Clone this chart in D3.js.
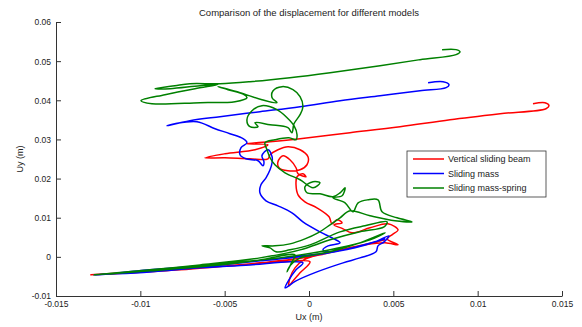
<!DOCTYPE html>
<html><head><meta charset="utf-8">
<script src="https://cdn.jsdelivr.net/npm/d3@7/dist/d3.min.js"></script>
<style>body{margin:0;background:#fff}svg{display:block}text{font-family:"Liberation Sans",Arial,sans-serif;fill:#222}</style>
</head><body>
<svg id="chart" width="582" height="327"></svg>
<script>
const title = "Comparison of the displacement for different models";
const xLabel = "Ux (m)";
const yLabel = "Uy (m)";
const xTicks = [-0.015, -0.01, -0.005, 0, 0.005, 0.01, 0.015];
const yTicks = [-0.01, 0, 0.01, 0.02, 0.03, 0.04, 0.05, 0.06];
const seriesNames = ["Vertical sliding beam", "Sliding mass", "Sliding mass-spring"];
const seriesColors = ["#ff0000", "#0000ff", "#008000"];

const beamUx = [0.01328,0.01399,0.01423,0.01405,0.01133,0.00836,0.00540,0.00243,-0.00053,-0.00231,-0.00368,-0.00243,-0.00320,-0.00498,-0.00617,-0.00498,-0.00350,-0.00243,-0.00231,-0.00184,-0.00125,-0.00053,-0.00006,-0.00012,-0.00053,-0.00125,-0.00178,-0.00184,-0.00154,-0.00113,-0.00077,-0.00065,-0.00018,-0.00036,-0.00071,-0.00077,-0.00065,-0.00024,0.00047,0.00119,0.00136,0.00166,0.00196,0.00148,0.00202,0.00255,0.00362,0.00468,0.00528,0.00492,0.00463,0.00528,0.00451,0.00332,0.00184,0.00053,-0.00030,-0.00083,-0.00113,-0.00119,-0.00095,-0.00053,0.00006,-0.00172,-0.00469,-0.00765,-0.01062,-0.01293,-0.01002,-0.00646,-0.00291,0.00006,0.00243,0.00451];
const beamUy = [0.03913,0.03939,0.03862,0.03785,0.03657,0.03504,0.03325,0.03171,0.03018,0.02941,0.02890,0.02864,0.02737,0.02634,0.02532,0.02532,0.02506,0.02506,0.02609,0.02737,0.02813,0.02737,0.02558,0.02353,0.02225,0.02199,0.02276,0.02430,0.02583,0.02481,0.02276,0.02123,0.02046,0.02123,0.02046,0.01841,0.01586,0.01407,0.01253,0.01023,0.00844,0.00946,0.00870,0.00818,0.00716,0.00614,0.00742,0.00844,0.00691,0.00563,0.00460,0.00307,0.00358,0.00307,0.00179,0.00051,-0.00077,-0.00281,-0.00537,-0.00742,-0.00614,-0.00409,-0.00128,-0.00128,-0.00230,-0.00332,-0.00409,-0.00460,-0.00384,-0.00281,-0.00153,0.00000,0.00230,0.00435];

const massUx = [0.00706,0.00795,0.00830,0.00813,0.00658,0.00421,0.00184,-0.00053,-0.00291,-0.00528,-0.00706,-0.00842,-0.00795,-0.00664,-0.00557,-0.00469,-0.00391,-0.00368,-0.00403,-0.00409,-0.00374,-0.00302,-0.00273,-0.00267,-0.00279,-0.00243,-0.00219,-0.00219,-0.00231,-0.00255,-0.00285,-0.00291,-0.00255,-0.00184,-0.00101,-0.00036,0.00065,0.00148,0.00184,0.00113,0.00083,0.00125,0.00273,0.00391,0.00474,0.00445,0.00409,0.00397,0.00302,0.00202,0.00047,-0.00077,-0.00142,-0.00119,-0.00077,-0.00036,-0.00113,-0.00350,-0.00646,-0.00943,-0.01275,-0.01002,-0.00646,-0.00291,-0.00053,0.00154,0.00332,0.00451,0.00184,-0.00053,-0.00350,-0.00646,-0.00943,-0.01121];
const massUy = [0.04450,0.04476,0.04399,0.04322,0.04245,0.04118,0.03990,0.03836,0.03708,0.03581,0.03478,0.03350,0.03401,0.03453,0.03274,0.03146,0.03018,0.02916,0.02788,0.02609,0.02506,0.02455,0.02327,0.02430,0.02583,0.02737,0.02558,0.02404,0.02225,0.02020,0.01841,0.01637,0.01432,0.01304,0.01125,0.00895,0.00639,0.00460,0.00358,0.00281,0.00179,0.00128,0.00230,0.00384,0.00537,0.00384,0.00281,0.00128,-0.00026,-0.00153,-0.00384,-0.00614,-0.00793,-0.00588,-0.00332,-0.00153,-0.00128,-0.00205,-0.00281,-0.00384,-0.00460,-0.00384,-0.00256,-0.00102,0.00000,0.00128,0.00307,0.00460,0.00153,0.00026,-0.00128,-0.00230,-0.00332,-0.00409];

const springUx = [0.00789,0.00872,0.00895,0.00872,0.00658,0.00421,0.00125,-0.00113,-0.00350,-0.00528,-0.00706,-0.00795,-0.00913,-0.00824,-0.00646,-0.00540,-0.00676,-0.00854,-0.00996,-0.00931,-0.00646,-0.00439,-0.00368,-0.00385,-0.00480,-0.00540,-0.00409,-0.00279,-0.00190,-0.00219,-0.00213,-0.00160,-0.00095,-0.00053,-0.00036,-0.00053,-0.00089,-0.00101,-0.00125,-0.00231,-0.00320,-0.00302,-0.00350,-0.00368,-0.00338,-0.00279,-0.00190,-0.00130,-0.00089,-0.00071,-0.00077,-0.00119,-0.00202,-0.00261,-0.00249,-0.00231,-0.00202,-0.00142,-0.00053,0.00024,0.00065,0.00024,-0.00024,-0.00012,0.00065,0.00142,0.00184,0.00214,0.00196,0.00142,0.00214,0.00261,0.00291,0.00350,0.00409,0.00433,0.00522,0.00611,0.00510,0.00362,0.00243,0.00184,0.00125,0.00053,-0.00024,-0.00113,-0.00202,-0.00279,-0.00231,-0.00196,-0.00113,0.00006,0.00184,0.00332,0.00463,0.00445,0.00302,0.00125,-0.00053,-0.00291,-0.00646,-0.00943,-0.01275,-0.00943,-0.00587,-0.00291,-0.00083,-0.00101,-0.00130,-0.00113,-0.00053,0.00125,0.00302,0.00451,0.00362,0.00125,-0.00172,-0.00528,-0.00884,-0.01180];
const springUy = [0.05294,0.05294,0.05243,0.05166,0.05038,0.04885,0.04706,0.04578,0.04476,0.04424,0.04424,0.04373,0.04297,0.04297,0.04373,0.04399,0.04297,0.04143,0.03990,0.03913,0.03939,0.03964,0.04066,0.04143,0.04271,0.04348,0.04194,0.04015,0.03939,0.04066,0.04245,0.04348,0.04271,0.04092,0.03836,0.03632,0.03401,0.03171,0.03299,0.03376,0.03427,0.03325,0.03325,0.03504,0.03734,0.03862,0.03760,0.03555,0.03350,0.03120,0.02992,0.03043,0.02992,0.02916,0.02737,0.02532,0.02353,0.02148,0.01969,0.01765,0.01893,0.01918,0.01790,0.01637,0.01611,0.01535,0.01637,0.01765,0.01560,0.01509,0.01381,0.01151,0.01381,0.01458,0.01458,0.01151,0.00997,0.00895,0.00921,0.01049,0.01176,0.00997,0.00818,0.00614,0.00460,0.00332,0.00281,0.00281,0.00230,0.00128,0.00179,0.00307,0.00639,0.00793,0.00895,0.00767,0.00639,0.00435,0.00179,-0.00026,-0.00205,-0.00332,-0.00460,-0.00358,-0.00230,-0.00077,0.00051,-0.00128,-0.00384,-0.00230,-0.00026,0.00128,0.00358,0.00614,0.00435,0.00179,-0.00026,-0.00179,-0.00307,-0.00435];

const series = [
  {name: seriesNames[0], color: seriesColors[0], ux: beamUx, uy: beamUy},
  {name: seriesNames[1], color: seriesColors[1], ux: massUx, uy: massUy},
  {name: seriesNames[2], color: seriesColors[2], ux: springUx, uy: springUy}
];

const svg = d3.select("#chart");
const m = {left: 56, right: 20, top: 22, bottom: 31};
const W = 582, H = 327;
const x = d3.scaleLinear().domain([-0.015, 0.015]).range([m.left, W - m.right]);
const y = d3.scaleLinear().domain([-0.01, 0.06]).range([H - m.bottom, m.top]);

svg.append("text").attr("x", 309).attr("y", 16).attr("text-anchor", "middle")
  .style("font-size", "9.5px").text(title);

const line = d3.line().x(d => x(d[0])).y(d => y(d[1])).curve(d3.curveCatmullRom.alpha(0.5));
series.forEach(s => {
  const pts = s.ux.map((v, i) => [v, s.uy[i]]);
  svg.append("path").attr("d", line(pts)).attr("fill", "none")
    .attr("stroke", s.color).attr("stroke-width", 1.5).attr("stroke-linejoin", "round");
});

const fmt = d => d === 0 ? "0" : String(d);
const xAxis = svg.append("g").attr("transform", `translate(0,${H - m.bottom})`)
  .call(d3.axisBottom(x).tickValues(xTicks).tickFormat(fmt).tickSizeInner(-5).tickSizeOuter(0).tickPadding(5));
const yAxis = svg.append("g").attr("transform", `translate(${m.left},0)`)
  .call(d3.axisLeft(y).tickValues(yTicks).tickFormat(fmt).tickSizeInner(-5).tickSizeOuter(0).tickPadding(5));
[xAxis, yAxis].forEach(g => {
  g.selectAll("path").attr("stroke", "#333");
  g.selectAll("line").attr("stroke", "#333");
  g.selectAll("text").style("font-size", "8.5px").style("font-family", "'Liberation Sans',Arial,sans-serif").attr("fill", "#222");
});
yAxis.selectAll("text").attr("dy", "0.35em");

svg.append("text").attr("x", 309).attr("y", 320).attr("text-anchor", "middle").style("font-size", "9px").text(xLabel);
svg.append("text").attr("transform", "translate(23,159) rotate(-90)").attr("text-anchor", "middle").style("font-size", "9px").text(yLabel);

const lg = svg.append("g").attr("transform", "translate(407,151)");
lg.append("rect").attr("width", 139).attr("height", 46).attr("fill", "#fff").attr("stroke", "#333").attr("stroke-width", 0.8);
series.forEach((s, i) => {
  const yy = 8 + i * 14.5;
  lg.append("line").attr("x1", 6).attr("x2", 37).attr("y1", yy).attr("y2", yy).attr("stroke", s.color).attr("stroke-width", 1.5);
  lg.append("text").attr("x", 41).attr("y", yy).attr("dy", "0.35em").style("font-size", "9px").text(s.name);
});
</script>
</body></html>
